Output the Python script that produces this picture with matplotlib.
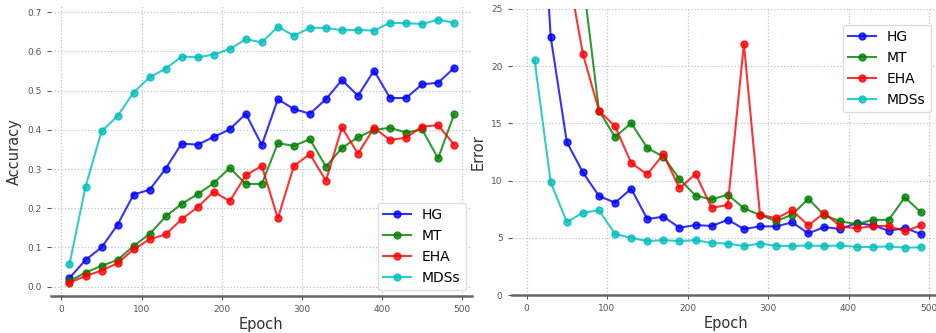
import numpy as np
import matplotlib
matplotlib.use("Agg")
import matplotlib.pyplot as plt

epochs = list(range(10, 500, 20))
names = ["HG", "MT", "EHA", "MDSs"]
colors = ["#0000ff", "#008000", "#ff0000", "#00bfbf"]

acc_hg = [0.022, 0.068, 0.100, 0.158, 0.235, 0.247, 0.301, 0.365, 0.362, 0.382,
          0.401, 0.441, 0.361, 0.478, 0.453, 0.441, 0.478, 0.527, 0.487, 0.551,
          0.481, 0.481, 0.516, 0.520, 0.558]
acc_mt = [0.014, 0.036, 0.053, 0.068, 0.104, 0.134, 0.179, 0.211, 0.236, 0.264,
          0.303, 0.262, 0.262, 0.366, 0.359, 0.376, 0.306, 0.354, 0.381, 0.400,
          0.405, 0.393, 0.401, 0.327, 0.440]
acc_eha = [0.010, 0.027, 0.041, 0.060, 0.095, 0.121, 0.133, 0.172, 0.203, 0.242,
           0.218, 0.284, 0.308, 0.174, 0.308, 0.338, 0.270, 0.406, 0.339, 0.405,
           0.374, 0.380, 0.408, 0.412, 0.362]
acc_mds = [0.057, 0.255, 0.396, 0.435, 0.495, 0.534, 0.556, 0.587, 0.585, 0.592,
           0.606, 0.631, 0.623, 0.663, 0.640, 0.660, 0.660, 0.654, 0.655, 0.653,
           0.673, 0.672, 0.670, 0.681, 0.673]

err_hg = [46.0, 22.55, 13.37, 10.72, 8.65, 8.07, 9.29, 6.64, 6.85, 5.88,
          6.12, 6.03, 6.58, 5.77, 6.0, 6.0, 6.35, 5.39, 5.94, 5.77,
          6.29, 6.1, 5.62, 5.86, 5.33]
err_mt = [60.0, 45.0, 35.0, 27.6, 16.1, 13.8, 15.03, 12.85, 12.09, 10.14,
          8.68, 8.36, 8.77, 7.58, 6.99, 6.47, 7.02, 8.42, 6.97, 6.44,
          6.2, 6.56, 6.58, 8.54, 7.23]
err_eha = [55.0, 40.0, 28.9, 21.07, 16.1, 14.74, 11.54, 10.55, 12.3, 9.33,
           10.58, 7.63, 7.87, 21.97, 7.02, 6.7, 7.4, 6.09, 7.17, 6.0,
           5.83, 6.03, 6.03, 5.57, 6.09]
err_mds = [20.5, 9.85, 6.38, 7.2, 7.4, 5.33, 5.0, 4.72, 4.8, 4.72,
           4.8, 4.55, 4.5, 4.28, 4.5, 4.3, 4.28, 4.33, 4.28, 4.33,
           4.2, 4.2, 4.25, 4.14, 4.17]


def style_axes(ax):
    for s in ["left", "top", "right"]:
        ax.spines[s].set_visible(False)
    ax.spines["bottom"].set_color("#666666")
    ax.spines["bottom"].set_linewidth(1.8)
    ax.grid(True, linestyle=":", color="#b8c4d0", linewidth=0.9)
    ax.set_axisbelow(True)
    ax.tick_params(labelsize=6.5, colors="#555555", length=3, width=0.8)
    ax.set_xlabel("Epoch", fontsize=10.5, color="#333333", labelpad=2)


def main():
    fig = plt.figure(figsize=(9.37, 3.33), dpi=100)
    ax1 = fig.add_axes([0.0545, 0.111, 0.449, 0.870])
    ax2 = fig.add_axes([0.546, 0.114, 0.4575, 0.859])

    for ys, c, n in zip([acc_hg, acc_mt, acc_eha, acc_mds], colors, names):
        ax1.plot(epochs, ys, "-o", color=c, alpha=0.8, lw=1.5, ms=5, label=n)
    for ys, c, n in zip([err_hg, err_mt, err_eha, err_mds], colors, names):
        ax2.plot(epochs, ys, "-o", color=c, alpha=0.8, lw=1.5, ms=5, label=n)

    ax1.set_xlim(-13, 512)
    ax1.set_ylim(-0.024, 0.715)
    ax1.set_yticks(np.arange(0, 0.71, 0.1))
    ax1.set_xticks([0, 100, 200, 300, 400, 500])
    ax1.set_ylabel("Accuracy", fontsize=10.5, color="#333333", labelpad=4)
    style_axes(ax1)
    ax1.legend(loc="lower right", fontsize=10, framealpha=1, edgecolor="#dddddd",
               borderaxespad=0.4)

    ax2.set_xlim(-18.6, 514)
    ax2.set_ylim(0, 25)
    ax2.set_yticks([0, 5, 10, 15, 20, 25])
    ax2.set_xticks([0, 100, 200, 300, 400, 500])
    ax2.set_ylabel("Error", fontsize=10.5, color="#333333", labelpad=4)
    style_axes(ax2)
    ax2.legend(loc="upper right", bbox_to_anchor=(0.995, 0.97), fontsize=10,
               framealpha=1, edgecolor="#dddddd")

    fig.savefig("out.png", dpi=100)
    plt.close()


if __name__ == "__main__":
    main()
